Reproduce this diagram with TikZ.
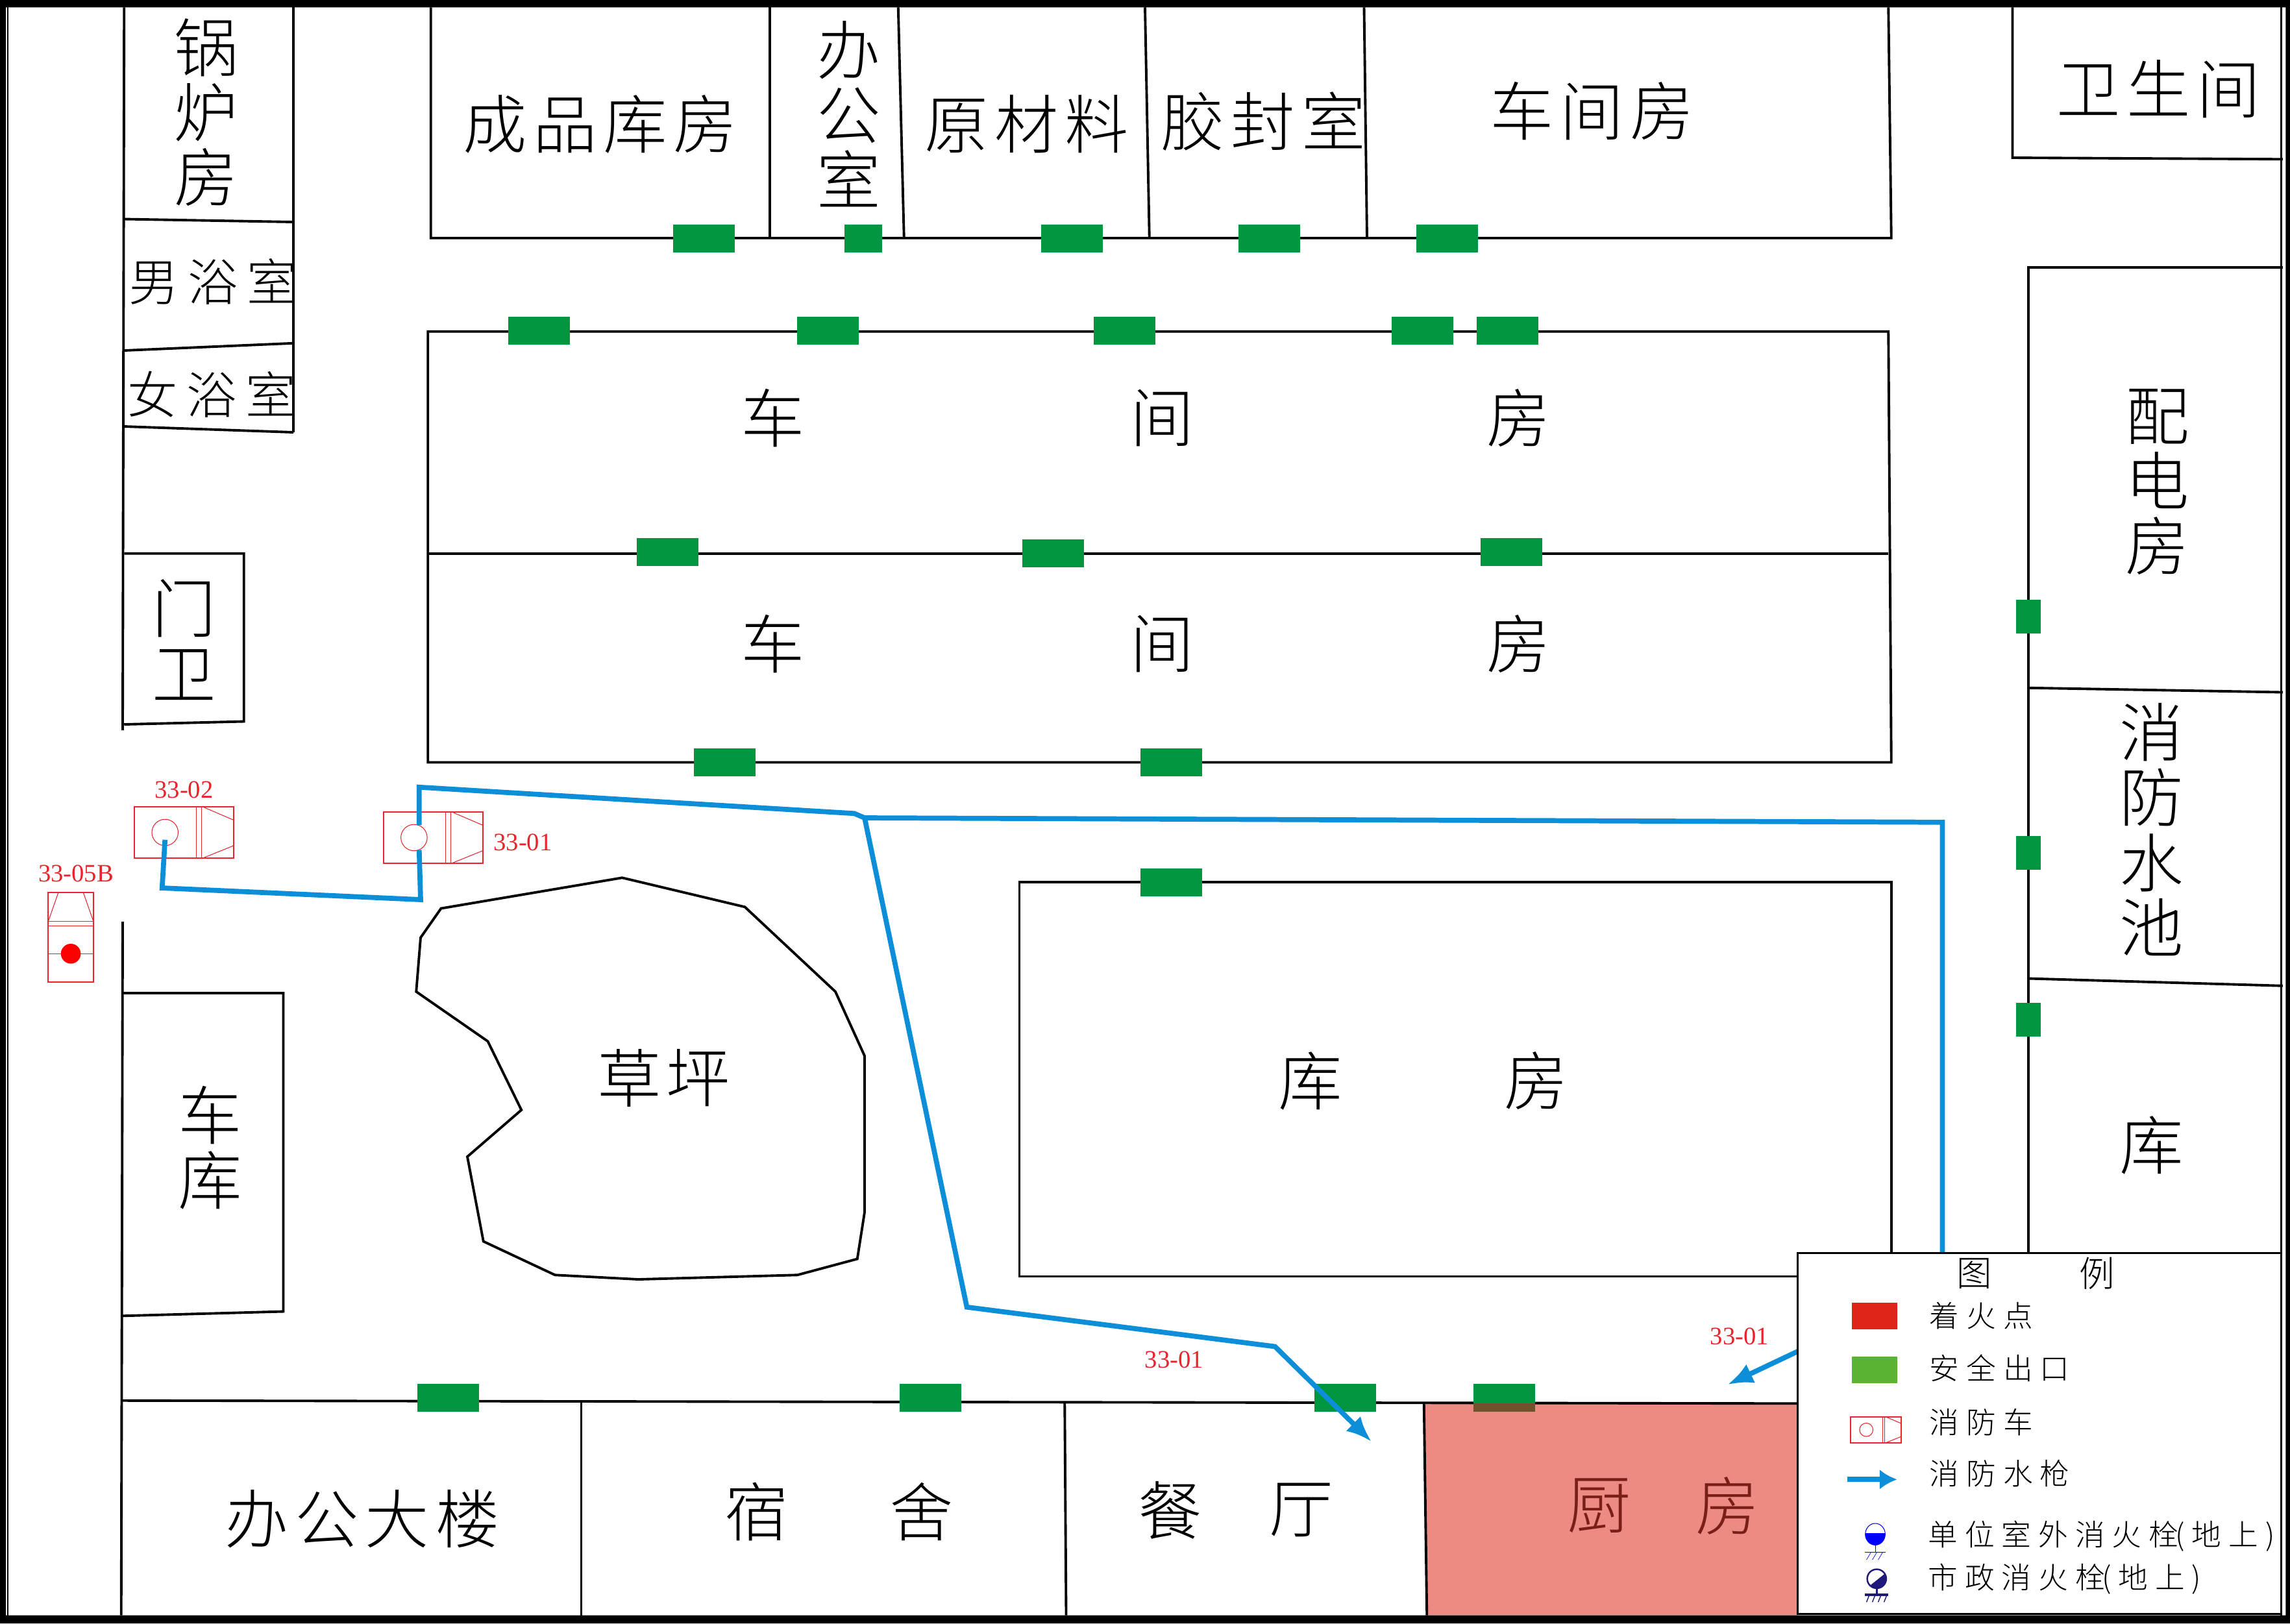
\documentclass[tikz,border=0pt]{standalone}
\usepackage{fontspec}
\usetikzlibrary{arrows.meta}
\newfontfamily\cjkfont{Noto Sans CJK SC}[UprightFont=* Light]
\newfontfamily\cjkwide{Noto Sans CJK SC}[UprightFont=* Light,LetterSpace=10]
\newfontfamily\cjkbath{Noto Sans CJK SC}[UprightFont=* Light,LetterSpace=18]
\newfontfamily\cjkwider{Noto Sans CJK SC}[UprightFont=* Light,LetterSpace=24]
\newfontfamily\numfont{Liberation Serif}
\lineskiplimit=-30pt
\definecolor{exitgreen}{HTML}{00963F}
\definecolor{hoseblue}{HTML}{0C8FD8}
\definecolor{truckred}{HTML}{E8242C}
\definecolor{kitchenred}{HTML}{EC8B84}
\definecolor{kitchentext}{HTML}{7A1E18}
\definecolor{firered}{HTML}{DC2418}
\definecolor{safegreen}{HTML}{5BB431}
\definecolor{doorbrown}{HTML}{70532C}
\definecolor{hydrantnavy}{HTML}{1F1A7A}
\tikzset{
    wall/.style={line width=1.1pt,line join=miter},
    hose/.style={hoseblue,line width=2.2pt,line join=miter},
    hosetip/.style={hose,-{Latex[length=3.9mm,width=3.2mm]}},
    exitdoor/.style={fill=exitgreen,minimum width=0.95cm,minimum height=0.43cm,inner sep=0pt},
    exitnarrow/.style={exitdoor,minimum width=0.58cm},
    exitside/.style={exitdoor,minimum width=0.38cm,minimum height=0.52cm},
    roomtext/.style={align=center,inner sep=0pt,font=\cjkfont\fontsize{28}{28.5}\selectfont},
    widetext/.style={inner sep=0pt,font=\cjkwide\fontsize{28}{28.5}\selectfont},
    bathtext/.style={inner sep=0pt,font=\cjkbath\fontsize{22}{23}\selectfont},
    legendtext/.style={anchor=west,inner sep=0pt,font=\cjkwider\fontsize{13}{14}\selectfont},
    legendhead/.style={inner sep=0pt,font=\cjkfont\fontsize{15.5}{16}\selectfont},
    trucktext/.style={truckred,inner sep=0pt,font=\numfont\fontsize{11}{12}\selectfont},
    firetruck/.pic={
        \draw[truckred,line width=0.6pt] (-34,-17.5) rectangle (34,17.5);
        \draw[truckred,line width=0.3pt] (-13,0) circle [radius=9];
        \draw[truckred,line width=0.3pt] (8.6,-17.5) to (8.6,17.5);
        \draw[truckred,line width=0.3pt] (12,-17.5) to (12,17.5);
        \draw[truckred,line width=0.3pt] (13,-17.5) to (34,-8.5);
        \draw[truckred,line width=0.3pt] (13,17.5) to (34,9);
    }
}
\begin{document}
\begin{tikzpicture}[x=0.0225cm,y=-0.0225cm]
        \useasboundingbox (0,0) rectangle (1568,1111.56);
        \fill[kitchenred] (975,961) -- (1231,961) -- (1231,1106) -- (977,1106) -- cycle;

        \draw[wall] (85,5) to (84,500);
        \draw[wall] (201,5) to (201,296);
        \draw[wall] (85,150) to (201,152);
        \draw[wall] (85,240) to (201,235);
        \draw[wall] (85,292) to (201,296);
        \draw[wall] (85,379) -- (167,379) -- (167,494) -- (85,496);
        \draw[wall] (84,631) to (83,1106);
        \draw[wall] (84,680) -- (194,680) -- (194,898) -- (84,901);

        \draw[wall] (295,5) -- (295,163) -- (1295,163) -- (1293,5);
        \draw[wall] (527,5) to (527,163);
        \draw[wall] (615,5) to (619,163);
        \draw[wall] (784,5) to (787,163);
        \draw[wall] (934,5) to (936,163);
        \draw[wall] (1378,5) -- (1378,108) -- (1563,109);

        \draw[wall] (293,227) -- (1293,227) -- (1295,522) -- (293,522) -- cycle;
        \draw[wall] (293,379) to (1293,379);
        \draw[wall] (698,604) -- (1295,604) -- (1295,874) -- (698,874) -- cycle;

        \draw[wall] (1563,183) -- (1389,183) -- (1389,860);
        \draw[wall] (1389,471) to (1563,474);
        \draw[wall] (1389,670) to (1563,675);

        \draw[wall] (83,959) to (1231,961);
        \draw[wall] (398,960) to (398,1106);
        \draw[wall] (729,960) to (730,1106);
        \draw[wall] (975,961) to (977,1106);

        \draw[wall] (302,622) -- (426,601) -- (510,621) -- (572,679) -- (592,723) -- (592,830)
            -- (587,862) -- (546,873) -- (437,876) -- (380,873) -- (331,850) -- (320,792)
            -- (357,760) -- (334,713) -- (285,679) -- (288,642) -- cycle;

        \node[exitdoor] (topa) at (482,163.5){};
        \node[exitnarrow] (topb) at (591,163.5){};
        \node[exitdoor] (topc) at (734,163.5){};
        \node[exitdoor] (topd) at (869,163.5){};
        \node[exitdoor] (tope) at (991,163.5){};
        \node[exitdoor] (upa) at (369,226.5){};
        \node[exitdoor] (upb) at (567,226.5){};
        \node[exitdoor] (upc) at (770,226.5){};
        \node[exitdoor] (upd) at (974,226.5){};
        \node[exitdoor] (upe) at (1032,226.5){};
        \node[exitdoor] (mida) at (457,378){};
        \node[exitdoor] (midb) at (721,379){};
        \node[exitdoor] (midc) at (1035,378){};
        \node[exitdoor] (lowa) at (496,522){};
        \node[exitdoor] (lowb) at (802,522){};
        \node[exitdoor] (store) at (802,604){};
        \node[exitside] (sidea) at (1389,422){};
        \node[exitside] (sideb) at (1389,584){};
        \node[exitside] (sidec) at (1389,698){};
        \node[exitdoor] (bota) at (307,957){};
        \node[exitdoor] (botb) at (637,957){};
        \node[exitdoor] (botc) at (921,957){};
        \node[exitdoor] (botd) at (1030,957){};
        \fill[doorbrown] (1009,961) rectangle (1051,966.5);

        \pic at (126,570) {firetruck};
        \pic at (296.5,573.5) {firetruck};
        \draw[truckred,line width=0.6pt] (33,611) rectangle (64,672.5);
        \draw[truckred,line width=0.3pt] (33,631) to (64,631);
        \draw[truckred,line width=0.3pt] (33,634) to (64,634);
        \draw[truckred,line width=0.3pt] (33,653) to (64,653);
        \draw[truckred,line width=0.3pt] (40,611) to (33,631);
        \draw[truckred,line width=0.3pt] (57,611) to (64,631);
        \fill[red] (48.5,653) circle [radius=6.8];

        \coordinate (hosejoint) at (592,560);
        \coordinate (hosecorner) at (1330,563);
        \draw[hose] (113,575) -- (111,608) -- (288,616) -- (287,582);
        \draw[hose] (287,565) -- (287,539) -- (585,557) -- (hosejoint);
        \draw[hose] (hosejoint) -- (hosecorner) -- (1330,880) -- (1240,921);
        \draw[hosetip] (1240,921) -- (1183,948);
        \draw[hosetip] (hosejoint) -- (662,895) -- (873,922) -- (939,987);

        \node[trucktext] (numa) at (126,541){33-02};
        \node[trucktext] (numb) at (358,577){33-01};
        \node[trucktext] (numc) at (52,598){33-05B};
        \node[trucktext] (numd) at (804,931){33-01};
        \node[trucktext] (nume) at (1191,915){33-01};

        \node[roomtext] (boiler) at (141,77){锅\\炉\\房};
        \node[bathtext] (menbath) at (146,193){男浴室};
        \node[bathtext] (womenbath) at (145,270){女浴室};
        \node[roomtext] (gate) at (126,438){门\\卫};
        \node[roomtext] (garage) at (144,786){车\\库};
        \node[widetext] (goods) at (411,85){成品库房};
        \node[roomtext] (office) at (581,78){办\\公\\室};
        \node[widetext] (material) at (703,85){原材料};
        \node[widetext] (glue) at (865,83){胶封室};
        \node[widetext] (shop) at (1090,76){车间房};
        \node[widetext] (toilet) at (1478,61){卫生间};
        \node[roomtext] (upcar) at (529,286){车};
        \node[roomtext] (upjian) at (796,286){间};
        \node[roomtext] (upfang) at (1040,286){房};
        \node[roomtext] (lowcar) at (529,441){车};
        \node[roomtext] (lowjian) at (796,441){间};
        \node[roomtext] (lowfang) at (1040,441){房};
        \node[roomtext] (power) at (1477,330){配\\电\\房};
        \node[roomtext] (pool) at (1473,568){消\\防\\水\\池};
        \node[roomtext] (sidestore) at (1473,784){库};
        \node[roomtext] (grassa) at (431,738){草};
        \node[roomtext] (grassb) at (478,738){坪};
        \node[roomtext] (storea) at (897,740){库};
        \node[roomtext] (storeb) at (1052,740){房};
        \node[widetext] (admin) at (248,1040){办公大楼};
        \node[roomtext] (dorma) at (518,1035){宿};
        \node[roomtext] (dormb) at (631,1035){舍};
        \node[roomtext] (halla) at (801,1034){餐};
        \node[roomtext] (hallb) at (891,1034){厅};
        \node[roomtext,text=kitchentext] (kitchena) at (1095,1031){厨};
        \node[roomtext,text=kitchentext] (kitchenb) at (1183,1031){房};

        \draw[line width=0.9pt,fill=white] (1231,858) rectangle (1562,1105);
        \node[legendhead] (legenda) at (1352,872){图};
        \node[legendhead] (legendb) at (1436,872){例};
        \fill[firered] (1268,892) rectangle (1299,910);
        \fill[safegreen] (1268,929) rectangle (1299,947);
        \pic[scale=0.51] at (1284.5,979) {firetruck};
        \coordinate (keytail) at (1265,1013);
        \coordinate (keytip) at (1299,1013);
        \draw[hose,-{Latex[length=2.7mm,width=3.1mm]}] (keytail) -- (keytip);

        \begin{scope}
            \clip (1270,1050) rectangle (1298,1060);
            \fill[blue] (1284,1050.5) ellipse [x radius=6.8,y radius=7.4];
        \end{scope}
        \draw[blue,line width=0.3pt] (1284,1050.5) ellipse [x radius=6.8,y radius=7.4];
        \draw[blue,line width=0.3pt] (1284,1058) to (1284,1063);
        \draw[blue,line width=0.3pt] (1277,1063) to (1291,1063);
        \draw[blue,line width=0.2pt] (1281,1063) to (1278,1068);
        \draw[blue,line width=0.2pt] (1285,1063) to (1282,1068);
        \draw[blue,line width=0.2pt] (1289,1063) to (1286,1068);

        \begin{scope}
            \clip (1275,1090) -- (1295,1090) -- (1295,1074) -- cycle;
            \fill[hydrantnavy] (1285,1081) circle [radius=6.5];
        \end{scope}
        \draw[hydrantnavy,line width=0.7pt] (1285,1081) circle [radius=6.5];
        \draw[hydrantnavy,line width=0.7pt] (1285,1087) to (1285,1092);
        \draw[hydrantnavy,line width=0.9pt] (1277,1092) to (1293,1092);
        \draw[hydrantnavy,line width=0.4pt] (1280,1092) to (1278,1097);
        \draw[hydrantnavy,line width=0.4pt] (1284,1092) to (1282,1097);
        \draw[hydrantnavy,line width=0.4pt] (1288,1092) to (1286,1097);
        \draw[hydrantnavy,line width=0.4pt] (1292,1092) to (1290,1097);

        \node[legendtext] (keyfire) at (1321,901){着火点};
        \node[legendtext] (keyexit) at (1321,937){安全出口};
        \node[legendtext] (keytruck) at (1321,974){消防车};
        \node[legendtext] (keyhose) at (1321,1009){消防水枪};
        \node[legendtext] (keyunit) at (1320,1052){单位室外消火栓\kern-.1em(地上)};
        \node[legendtext] (keycity) at (1320,1081){市政消火栓\kern-.1em(地上)};

        \fill[black,even odd rule] (0,0) rectangle (1568,1111.56) (4,5) rectangle (1565,1106);
        \draw[line width=0.7pt] (5.3,5) to (5.3,1106);
        \draw[line width=0.7pt] (1562,5) to (1562,1106);
        \end{tikzpicture}
\end{document}
